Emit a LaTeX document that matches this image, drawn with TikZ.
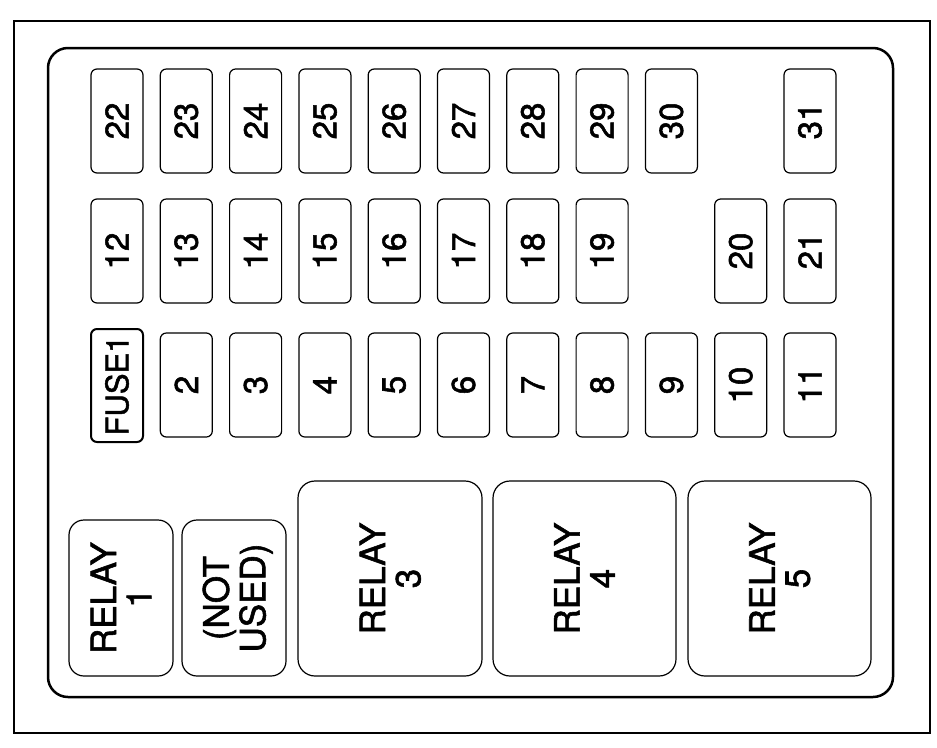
\documentclass[tikz,border=0pt]{standalone}
\usepackage{fontspec}
\setmainfont[FakeBold=1.6]{TeX Gyre Heros}
\usetikzlibrary{positioning}

\newcommand{\up}[1]{\rotatebox{90}{#1}}
\newcommand{\uptwo}[2]{\rotatebox{90}{\raisebox{0pt}[\height][0pt]{\begin{tabular}[b]{@{}c@{}}#1\\#2\end{tabular}}}}

\begin{document}
\begin{tikzpicture}[x=1pt, y=-1pt,
		fuse/.style={rectangle, draw, rounded corners=6pt, line width=1.2pt, outer sep=0pt, inner sep=0pt, minimum width=52pt, minimum height=104pt, font=\fontsize{33}{35}\selectfont},
		relay/.style={rectangle, draw, rounded corners=17pt, line width=1.2pt, outer sep=0pt, inner sep=0pt, minimum height=195pt, font=\fontsize{35}{35}\selectfont},
		smallrelay/.style={relay, rounded corners=15pt, minimum width=104pt, minimum height=156pt}]
		\useasboundingbox (0,0) rectangle (937,747);
		
		% frames
		\draw[line width=2.5pt] (14,21) rectangle (930,733);
		\draw[line width=2.5pt, rounded corners=20pt] (48,48) rectangle (893,697);
		
		% top row
		\node[fuse] (f22) at (117,121) {\up{22}};
		\node[fuse, right=17.3pt of f22] (f23) {\up{23}};
		\node[fuse, right=17.3pt of f23] (f24) {\up{24}};
		\node[fuse, right=17.3pt of f24] (f25) {\up{25}};
		\node[fuse, right=17.3pt of f25] (f26) {\up{26}};
		\node[fuse, right=17.3pt of f26] (f27) {\up{27}};
		\node[fuse, right=17.3pt of f27] (f28) {\up{28}};
		\node[fuse, right=17.3pt of f28] (f29) {\up{29}};
		\node[fuse, right=17.3pt of f29] (f30) {\up{30}};
		\node[fuse, right=86.6pt of f30] (f31) {\up{31}};
		
		% middle row
		\node[fuse, below=26pt of f22] (f12) {\up{12}};
		\node[fuse, right=17.3pt of f12] (f13) {\up{13}};
		\node[fuse, right=17.3pt of f13] (f14) {\up{14}};
		\node[fuse, right=17.3pt of f14] (f15) {\up{15}};
		\node[fuse, right=17.3pt of f15] (f16) {\up{16}};
		\node[fuse, right=17.3pt of f16] (f17) {\up{17}};
		\node[fuse, right=17.3pt of f17] (f18) {\up{18}};
		\node[fuse, right=17.3pt of f18] (f19) {\up{19}};
		\node[fuse, right=86.6pt of f19] (f20) {\up{20}};
		\node[fuse, right=17.3pt of f20] (f21) {\up{21}};
		
		% bottom row
		\node[fuse, line width=2pt, minimum height=113pt, font=\fontsize{31}{33}\selectfont, below=26pt of f12] (f1) {\up{FUSE1}};
		\node[fuse, below=30pt of f13] (f2) {\up{2}};
		\node[fuse, right=17.3pt of f2] (f3) {\up{3}};
		\node[fuse, right=17.3pt of f3] (f4) {\up{4}};
		\node[fuse, right=17.3pt of f4] (f5) {\up{5}};
		\node[fuse, right=17.3pt of f5] (f6) {\up{6}};
		\node[fuse, right=17.3pt of f6] (f7) {\up{7}};
		\node[fuse, right=17.3pt of f7] (f8) {\up{8}};
		\node[fuse, right=17.3pt of f8] (f9) {\up{9}};
		\node[fuse, right=17.3pt of f9] (f10) {\up{10}};
		\node[fuse, right=17.3pt of f10] (f11) {\up{11}};
		
		% relays
		\node[smallrelay] (r1) at (121,598) {\uptwo{RELAY}{1}};
		\node[smallrelay, right=9pt of r1] (notused) {\uptwo{(NOT}{USED)}};
		\node[relay, minimum width=184pt, above right=0pt and 12pt of notused.south east] (r3) {\uptwo{RELAY}{3}};
		\node[relay, minimum width=183pt, right=11pt of r3] (r4) {\uptwo{RELAY}{4}};
		\node[relay, minimum width=183pt, right=12pt of r4] (r5) {\uptwo{RELAY}{5}};
		
	\end{tikzpicture}
\end{document}
